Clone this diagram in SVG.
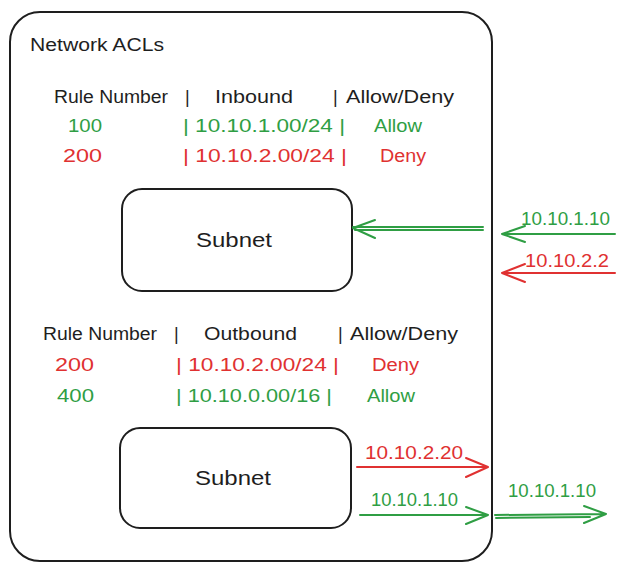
<svg xmlns="http://www.w3.org/2000/svg" width="626" height="571" viewBox="0 0 626 571">
<style>
text{font-family:"Liberation Sans","Open Sans",sans-serif;font-size:18px}
.k{fill:#1e1e1e}.g{fill:#2f9e44}.r{fill:#e03131}
.s{font-size:21px}
.box{fill:#fff;stroke:#1e1e1e;stroke-width:2}
.lg{stroke:#2f9e44;stroke-width:2;fill:none;stroke-linecap:round;stroke-linejoin:round}
.lr{stroke:#e03131;stroke-width:2;fill:none;stroke-linecap:round;stroke-linejoin:round}
</style>
<g id="acl">
<rect class="box" x="10" y="12" width="482" height="549" rx="30"/>
<text class="k" x="30" y="51" textLength="134" lengthAdjust="spacingAndGlyphs">Network ACLs</text>
</g>
<g id="inbound-table">
<text class="k" x="54" y="103" textLength="114" lengthAdjust="spacingAndGlyphs">Rule Number</text>
<text class="k" x="185" y="103">|</text>
<text class="k" x="215" y="103" textLength="78" lengthAdjust="spacingAndGlyphs">Inbound</text>
<text class="k" x="333" y="103">|</text>
<text class="k" x="346" y="103" textLength="108" lengthAdjust="spacingAndGlyphs">Allow/Deny</text>
<text class="g" x="68" y="132" textLength="34" lengthAdjust="spacingAndGlyphs">100</text>
<text class="g" x="183" y="132" textLength="162" lengthAdjust="spacingAndGlyphs">| 10.10.1.00/24 |</text>
<text class="g" x="374" y="132" textLength="48" lengthAdjust="spacingAndGlyphs">Allow</text>
<text class="r" x="63" y="162" textLength="39" lengthAdjust="spacingAndGlyphs">200</text>
<text class="r" x="183" y="162" textLength="164" lengthAdjust="spacingAndGlyphs">| 10.10.2.00/24 |</text>
<text class="r" x="380" y="162" textLength="46" lengthAdjust="spacingAndGlyphs">Deny</text>
</g>
<g id="subnet1">
<rect class="box" x="122" y="189" width="230" height="102" rx="20"/>
<text class="k s" x="234" y="247" text-anchor="middle" textLength="76" lengthAdjust="spacingAndGlyphs">Subnet</text>
</g>
<g id="outbound-table">
<text class="k" x="43" y="340" textLength="114" lengthAdjust="spacingAndGlyphs">Rule Number</text>
<text class="k" x="174" y="340">|</text>
<text class="k" x="204" y="340" textLength="93" lengthAdjust="spacingAndGlyphs">Outbound</text>
<text class="k" x="338" y="340">|</text>
<text class="k" x="350" y="340" textLength="108" lengthAdjust="spacingAndGlyphs">Allow/Deny</text>
<text class="r" x="55" y="371" textLength="39" lengthAdjust="spacingAndGlyphs">200</text>
<text class="r" x="176" y="371" textLength="163" lengthAdjust="spacingAndGlyphs">| 10.10.2.00/24 |</text>
<text class="r" x="372" y="371" textLength="47" lengthAdjust="spacingAndGlyphs">Deny</text>
<text class="g" x="57" y="402" textLength="37" lengthAdjust="spacingAndGlyphs">400</text>
<text class="g" x="176" y="402" textLength="156" lengthAdjust="spacingAndGlyphs">| 10.10.0.00/16 |</text>
<text class="g" x="367" y="402" textLength="48" lengthAdjust="spacingAndGlyphs">Allow</text>
</g>
<g id="subnet2">
<rect class="box" x="120" y="428" width="231" height="100" rx="20"/>
<text class="k s" x="233" y="485" text-anchor="middle" textLength="76" lengthAdjust="spacingAndGlyphs">Subnet</text>
</g>
<g id="connectors">
<path class="lg" d="M483 227 L353 227 M483 230 L355 230 M353 228 L375 220 M353 228 L375 238"/>
<path class="lg" d="M615 234 L502 234 M502 234 L525 226 M502 234 L525 242"/>
<text class="g" x="521" y="225" textLength="89" lengthAdjust="spacingAndGlyphs">10.10.1.10</text>
<path class="lr" d="M615 273 L502 273 M502 273 L525 264 M502 273 L525 282"/>
<text class="r" x="525" y="267" textLength="84" lengthAdjust="spacingAndGlyphs">10.10.2.2</text>
<path class="lr" d="M357 467 L488 467 M488 467 L466 458 M488 467 L466 477"/>
<text class="r" x="365" y="459" textLength="98" lengthAdjust="spacingAndGlyphs">10.10.2.20</text>
<path class="lg" d="M360 515 L488 515 M488 515 L466 507 M488 515 L466 524"/>
<text class="g" x="371" y="506" textLength="87" lengthAdjust="spacingAndGlyphs">10.10.1.10</text>
<path class="lg" d="M495 515 L606 514 M496 518 L590 517 M606 514 L584 506 M606 514 L584 523"/>
<text class="g" x="508" y="497" textLength="88" lengthAdjust="spacingAndGlyphs">10.10.1.10</text>
</g>
</svg>
